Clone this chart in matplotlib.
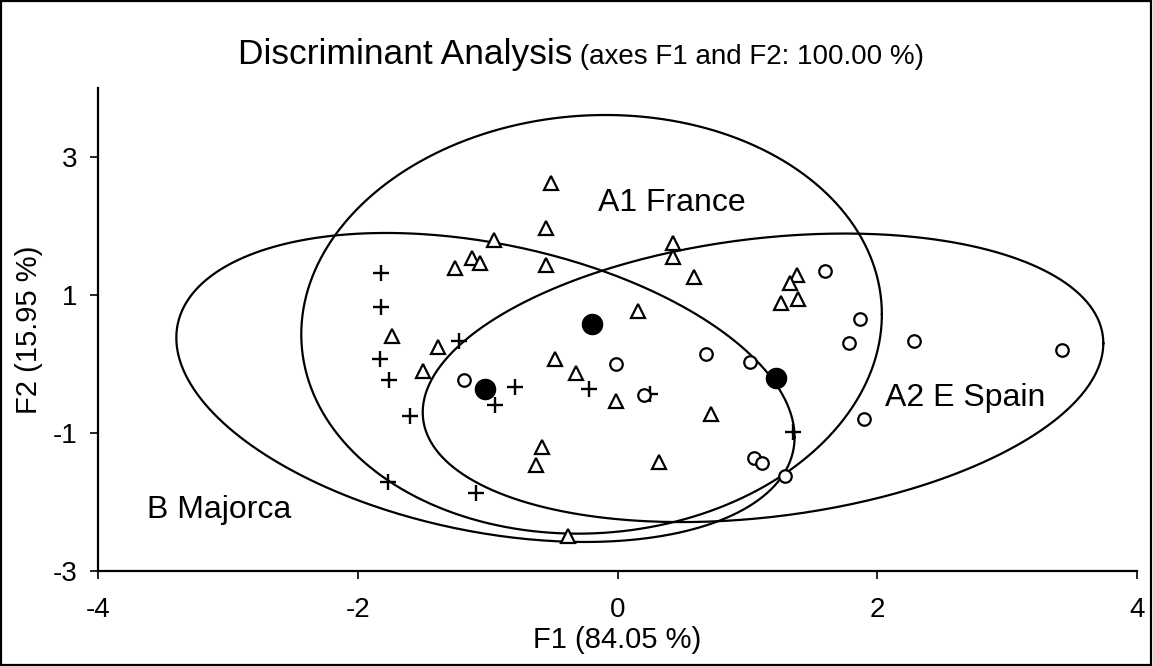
import numpy as np
import matplotlib
matplotlib.use("Agg")
import matplotlib.pyplot as plt

plt.rcParams['font.family'] = ['Liberation Sans', 'DejaVu Sans']
plt.rcParams['axes.unicode_minus'] = False

# B Majorca observations (+)
maj_x = [-1.82, -1.82, -1.83, -1.76, -1.22, -0.79, -0.94, -1.60, -0.22, 0.25, 1.35, -1.77, -1.09]
maj_y = [1.32, 0.82, 0.07, -0.23, 0.33, -0.34, -0.59, -0.75, -0.36, -0.44, -0.99, -1.71, -1.87]

# A1 France observations (triangles)
fra_x = [-0.51, -0.55, -0.95, -0.55, -1.12, -1.06, -1.25, -1.74, -1.38, -1.50, -0.48, -0.32,
         0.43, 0.43, 0.59, 1.38, 1.33, 1.26, 1.39, 0.16, -0.01, 0.72, 0.32, -0.38, -0.58, -0.63]
fra_y = [2.63, 1.97, 1.80, 1.43, 1.53, 1.47, 1.39, 0.41, 0.24, -0.10, 0.07, -0.13,
         1.75, 1.55, 1.26, 1.29, 1.18, 0.89, 0.94, 0.77, -0.53, -0.73, -1.42, -2.49, -1.20, -1.47]

# A2 E Spain observations (circles)
spa_x = [1.60, 1.87, 1.78, 2.28, 3.42, 1.90, 0.68, 1.02, -0.01, 0.20, 1.05, 1.11, 1.29, -1.18]
spa_y = [1.35, 0.65, 0.30, 0.34, 0.20, -0.80, 0.14, 0.03, 0.00, -0.45, -1.36, -1.44, -1.62, -0.23]

# class centroids
cen_x = [-0.20, -1.02, 1.22]
cen_y = [0.58, -0.36, -0.20]

# confidence ellipses: centre x, centre y, p, q, r
# x = cx + p cos t ; y = cy + q cos t + r sin t
ellipses = {
    'A1 France': (-0.20, 0.575, 2.235, 0.145, 3.03),
    'B Majorca': (-1.017, -0.34, 2.38, -0.72, 2.12),
    'A2 E Spain': (1.12, -0.20, 2.62, 0.50, 2.03),
}
label_pos = {'A1 France': (-0.15, 2.33), 'A2 E Spain': (2.06, -0.49), 'B Majorca': (-3.62, -2.12)}

fig = plt.figure(figsize=(11.53, 6.66), dpi=100)
ax = fig.add_axes([0.085, 0.1426, 0.9012, 0.7253])

t = np.linspace(0, 2 * np.pi, 400)
for name, (cx, cy, p, q, r) in ellipses.items():
    ax.plot(cx + p * np.cos(t), cy + q * np.cos(t) + r * np.sin(t), color='black', lw=1.6)
    lx, ly = label_pos[name]
    ax.text(lx, ly, name, fontsize=23, va='center', ha='left')

ax.plot(maj_x, maj_y, '+', color='black', ms=12, mew=1.7, ls='none')
ax.plot(fra_x, fra_y, '^', mfc='white', mec='black', ms=10, mew=1.6, ls='none')
ax.plot(spa_x, spa_y, 'o', mfc='white', mec='black', ms=9, mew=1.6, ls='none')
ax.plot(cen_x, cen_y, 'o', color='black', ms=14.5, ls='none')

ax.set_xlim(-4, 4)
ax.set_ylim(-3, 4)
ax.set_xticks([-4, -2, 0, 2, 4])
ax.set_yticks([-3, -1, 1, 3])
for s in ['top', 'right']:
    ax.spines[s].set_visible(False)
for s in ['left', 'bottom']:
    ax.spines[s].set_linewidth(1.6)
ax.tick_params(axis='x', length=6, width=1.2, labelsize=20, direction='out', pad=13)
ax.tick_params(axis='y', length=6, width=1.2, labelsize=20, direction='out', pad=9)
ax.set_xlabel('F1 (84.05 %)', fontsize=21, labelpad=2)
ax.set_ylabel('F2 (15.95 %)', fontsize=21, labelpad=7)

# title in two sizes
t1 = fig.text(0.2, 0.904, 'Discriminant Analysis', fontsize=25.5, va='baseline')
t2 = fig.text(0.5, 0.904, ' (axes F1 and F2: 100.00 %)', fontsize=20, va='baseline')
fig.canvas.draw()
rend = fig.canvas.get_renderer()
w1 = t1.get_window_extent(rend).width / fig.bbox.width
w2 = t2.get_window_extent(rend).width / fig.bbox.width
x0 = 0.504 - (w1 + w2) / 2
t1.set_x(x0)
t2.set_x(x0 + w1)

# frame round the figure
fig.patches.append(plt.Rectangle((0.001, 0.001), 0.997, 0.997, transform=fig.transFigure,
                                 fill=False, ec='black', lw=1.6))

fig.savefig('out.png', dpi=100)
